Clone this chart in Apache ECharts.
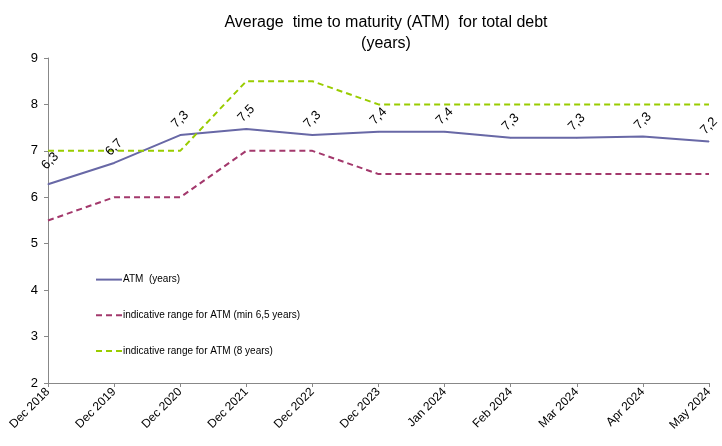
<!DOCTYPE html>
<html lang="en">
<head>
    <meta charset="UTF-8">
    <title>Average time to maturity</title>
    <script src="https://cdn.jsdelivr.net/npm/echarts@6/dist/echarts.min.js"></script>
    <style>
        html, body { margin: 0; padding: 0; background: #fff; }
        #main { width: 722px; height: 446px; }
    </style>
</head>
<body>
<div id="main"></div>
<script>
    // periods on the x axis
    var periods = ['Dec 2018', 'Dec 2019', 'Dec 2020', 'Dec 2021', 'Dec 2022', 'Dec 2023',
        'Jan 2024', 'Feb 2024', 'Mar 2024', 'Apr 2024', 'May 2024'];
    // ATM in years
    var atm = [6.28, 6.74, 7.34, 7.47, 7.34, 7.41, 7.41, 7.28, 7.28, 7.31, 7.2];
    // lower bound of the indicative range
    var rangeMin = [5.5, 6, 6, 7, 7, 6.5, 6.5, 6.5, 6.5, 6.5, 6.5];
    // upper bound of the indicative range
    var rangeMax = [7, 7, 7, 8.5, 8.5, 8, 8, 8, 8, 8, 8];

    var font = 'Liberation Sans, Arial, sans-serif';
    var chart = echarts.init(document.getElementById('main'));

    // first label sits a little to the right, off the y axis
    var atmData = atm.map(function (v, i) {
        return i === 0 ? { value: v, label: { offset: [7, -4] } } : v;
    });

    var option = {
        animation: false,
        title: {
            text: 'Average  time to maturity (ATM)  for total debt\n(years)',
            left: 381,
            textAlign: 'center',
            top: 7,
            textStyle: {
                fontFamily: font,
                fontSize: 16,
                fontWeight: 'normal',
                color: '#000',
                lineHeight: 21
            }
        },
        legend: {
            orient: 'vertical',
            left: 90,
            top: 269,
            itemGap: 24.5,
            itemWidth: 26,
            itemHeight: 14,
            itemStyle: { opacity: 0 },
            textStyle: { fontFamily: font, fontSize: 10, color: '#000', padding: [0, 0, 0, -4] },
            data: ['ATM  (years)', 'indicative range for ATM (min 6,5 years)', 'indicative range for ATM (8 years)']
        },
        grid: { left: 48, right: 13, top: 58, bottom: 63 },
        xAxis: {
            type: 'category',
            data: periods,
            boundaryGap: false,
            axisLine: { lineStyle: { color: '#888' } },
            axisTick: { show: true, alignWithLabel: true, length: 4, lineStyle: { color: '#888' } },
            axisLabel: {
                rotate: 45,
                interval: 0,
                fontFamily: font,
                fontSize: 12,
                color: '#000',
                margin: 7
            }
        },
        yAxis: {
            type: 'value',
            min: 2,
            max: 9,
            interval: 1,
            splitLine: { show: false },
            axisLine: { show: true, lineStyle: { color: '#888' } },
            axisTick: { show: true, length: 4, lineStyle: { color: '#888' } },
            axisLabel: { fontFamily: font, fontSize: 13, color: '#000', margin: 10 }
        },
        series: [
            {
                name: 'ATM  (years)',
                type: 'line',
                data: atmData,
                symbol: 'circle',
                symbolSize: 1,
                lineStyle: { color: '#6868a6', width: 2 },
                itemStyle: { color: '#6868a6' },
                z: 3,
                label: {
                    show: true,
                    position: 'top',
                    distance: 15,
                    rotate: 45,
                    align: 'center',
                    verticalAlign: 'middle',
                    fontFamily: font,
                    fontSize: 13,
                    color: '#000',
                    formatter: function (p) {
                        return p.value.toFixed(1).replace('.', ',');
                    }
                }
            },
            {
                name: 'indicative range for ATM (min 6,5 years)',
                type: 'line',
                data: rangeMin,
                symbol: 'none',
                lineStyle: { color: '#a3386c', width: 2, type: [6, 4] },
                itemStyle: { color: '#a3386c' }
            },
            {
                name: 'indicative range for ATM (8 years)',
                type: 'line',
                data: rangeMax,
                symbol: 'none',
                lineStyle: { color: '#99cc00', width: 2, type: [6, 4] },
                itemStyle: { color: '#99cc00' }
            }
        ]
    };
    chart.setOption(option);
</script>
</body>
</html>
